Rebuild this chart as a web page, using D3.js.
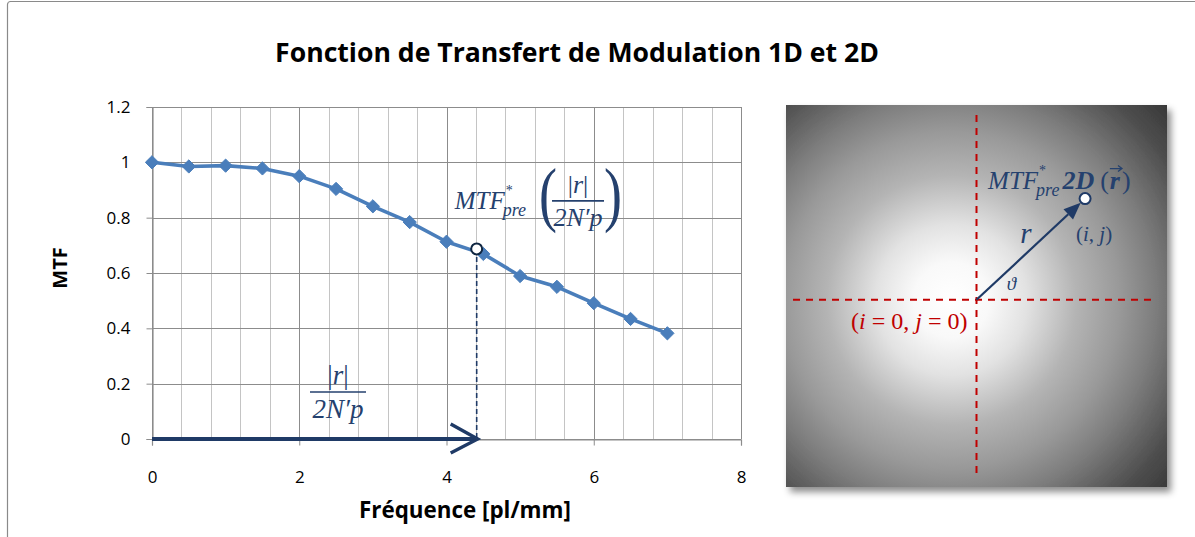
<!DOCTYPE html>
<html><head><meta charset="utf-8">
<script src="https://cdn.jsdelivr.net/npm/d3@7"></script>
<style>body{margin:0;background:#fff;} svg{display:block;}</style>
</head><body>
<script>
// ---- data ----
const frequencies = [0, 0.5, 1, 1.5, 2, 2.5, 3, 3.5, 4, 4.5, 5, 5.5, 6, 6.5, 7];
const mtfValues   = [1.0, 0.985, 0.988, 0.978, 0.950, 0.904, 0.841, 0.784, 0.713, 0.669, 0.589, 0.550, 0.491, 0.434, 0.382];
const xTickValues = [0, 2, 4, 6, 8];
const yTickValues = [0, 0.2, 0.4, 0.6, 0.8, 1.0, 1.2];
const xMinorStep = 0.4;
const markedFrequency = 4.41;   // |r| / 2N'p
const markedMtf = 0.687;        // MTF*pre at that frequency
const titleText = "Fonction de Transfert de Modulation 1D et 2D";
const xAxisTitle = "Fréquence [pl/mm]";
const yAxisTitle = "MTF";
const samplePixel = [0.57, 0.53]; // (i,j) in normalised 2D panel coordinates

// ---- styles ----
const W = 1195, H = 537;
const seriesColor = "#4A7EBB";
const navy = "#1F3A66";
const mathText = "#25416E";
const red = "#C00000";
const uiFont = "'Open Sans', Lato, sans-serif";
const mathFont = "'Liberation Serif', 'DejaVu Serif', serif";

const svg = d3.select("body").append("svg").attr("width", W).attr("height", H);
const defs = svg.append("defs");

// scale a text's font size so that it spans the given width
function fitWidth(sel, width) {
  const size = +sel.attr("font-size");
  const len = sel.node().getComputedTextLength();
  sel.attr("font-size", (size * width / len).toFixed(2));
  return sel;
}

// chart frame
svg.append("rect").attr("x", 7.5).attr("y", 1.5).attr("width", W + 20).attr("height", H + 20)
  .attr("rx", 3).attr("fill", "#fff").attr("stroke", "#8A8A8A").attr("stroke-width", 1.2);

// title
fitWidth(svg.append("text").attr("x", 577).attr("y", 62).attr("text-anchor", "middle")
  .attr("font-family", uiFont).attr("font-weight", "bold").attr("font-size", 22)
  .attr("fill", "#000").text(titleText), 604);

// ---- 1D chart ----
const plot = { left: 152, right: 741, top: 107, bottom: 439 };
const x = d3.scaleLinear().domain([0, 8]).range([plot.left, plot.right]);
const y = d3.scaleLinear().domain([0, 1.2]).range([plot.bottom, plot.top]);

const grid = svg.append("g");
const minorX = d3.range(0, 8 + 1e-9, xMinorStep).filter(v => !xTickValues.some(t => Math.abs(t - v) < 1e-6));
grid.selectAll("line.minx").data(minorX).join("line")
  .attr("x1", d => Math.round(x(d)) + 0.5).attr("x2", d => Math.round(x(d)) + 0.5)
  .attr("y1", plot.top).attr("y2", plot.bottom)
  .attr("stroke", "#C4C4C4").attr("stroke-width", 1);
grid.selectAll("line.majy").data(yTickValues).join("line")
  .attr("x1", plot.left).attr("x2", plot.right)
  .attr("y1", d => Math.round(y(d)) + 0.5).attr("y2", d => Math.round(y(d)) + 0.5)
  .attr("stroke", "#8C8C8C").attr("stroke-width", 1);
grid.selectAll("line.majx").data(xTickValues).join("line")
  .attr("x1", d => Math.round(x(d)) + 0.5).attr("x2", d => Math.round(x(d)) + 0.5)
  .attr("y1", plot.top).attr("y2", plot.bottom)
  .attr("stroke", "#8C8C8C").attr("stroke-width", 1);

// axes
const yAxis = svg.append("g").attr("transform", `translate(${plot.left + 0.5},0)`)
  .call(d3.axisLeft(y).tickValues(yTickValues).tickSize(6).tickPadding(16)
    .tickFormat(d => d3.format("~g")(+d.toFixed(1))));
const xAxis = svg.append("g").attr("transform", `translate(0,${plot.bottom + 0.5})`)
  .call(d3.axisBottom(x).tickValues(xTickValues).tickSize(6).tickPadding(25)
    .tickFormat(d3.format("d")));
[xAxis, yAxis].forEach(g => {
  g.select(".domain").attr("stroke", "#8C8C8C").attr("stroke-width", 1.2);
  g.selectAll(".tick line").attr("stroke", "#8C8C8C");
  g.selectAll(".tick text").attr("font-family", uiFont).attr("font-size", 17).attr("fill", "#000");
});

// axis titles
fitWidth(svg.append("text").attr("x", 465).attr("y", 518).attr("text-anchor", "middle")
  .attr("font-family", uiFont).attr("font-weight", "bold").attr("font-size", 20).text(xAxisTitle), 212);
svg.append("text").attr("transform", "translate(67,268) rotate(-90)").attr("text-anchor", "middle")
  .attr("font-family", uiFont).attr("font-weight", "bold").attr("font-size", 20).text(yAxisTitle);

// frequency arrow |r|/2N'p along the x axis
const mx = x(markedFrequency), my = y(markedMtf);
svg.append("line").attr("x1", mx).attr("x2", mx).attr("y1", my).attr("y2", y(0))
  .attr("stroke", navy).attr("stroke-width", 1.6).attr("stroke-dasharray", "5,3");
svg.append("line").attr("x1", x(0)).attr("x2", mx).attr("y1", y(0)).attr("y2", y(0))
  .attr("stroke", navy).attr("stroke-width", 3.8);
svg.append("path").attr("d", `M${mx - 26},${y(0) - 15}L${mx + 1},${y(0)}L${mx - 26},${y(0) + 14}`)
  .attr("fill", "none").attr("stroke", navy).attr("stroke-width", 3.4).attr("stroke-linejoin", "miter");

// series
const points = frequencies.map((f, i) => [f, mtfValues[i]]);
svg.append("path").datum(points)
  .attr("d", d3.line().x(d => x(d[0])).y(d => y(d[1])))
  .attr("fill", "none").attr("stroke", seriesColor).attr("stroke-width", 3.6).attr("stroke-linejoin", "round");
svg.selectAll("path.marker").data(points).join("path")
  .attr("class", "marker")
  .attr("d", d3.symbol(d3.symbolDiamond2, 112))
  .attr("transform", d => `translate(${x(d[0])},${y(d[1])})`)
  .attr("fill", seriesColor).attr("stroke", seriesColor).attr("stroke-width", 1);

// marked point
svg.append("circle").attr("cx", mx).attr("cy", my).attr("r", 5.5)
  .attr("fill", "#fff").attr("stroke", "#0F2540").attr("stroke-width", 2);

// ---- math helpers ----
function mathRun(g, px, py, t, size, opts = {}) {
  const e = g.append("text").attr("x", px).attr("y", py).attr("font-family", mathFont)
    .attr("font-size", size).attr("font-style", opts.upright ? "normal" : "italic")
    .attr("font-weight", opts.bold ? "bold" : "normal").attr("fill", opts.color || mathText).text(t);
  return px + e.node().getComputedTextLength();
}
// "MTF" with a stacked superscript * and subscript "pre"
function mtfPre(g, px, py) {
  const endM = mathRun(g, px, py, "MTF", 25);
  mathRun(g, endM + 1, py - 14, "*", 14, { upright: true });
  return mathRun(g, endM - 2, py + 7, "pre", 18);
}
function fraction(g, cx, barY, halfW, size) {
  g.append("text").attr("x", cx).attr("y", barY - 8).attr("text-anchor", "middle")
    .attr("font-family", mathFont).attr("font-size", size).attr("fill", mathText)
    .html('|<tspan font-style="italic">r</tspan>|');
  g.append("line").attr("x1", cx - halfW).attr("x2", cx + halfW).attr("y1", barY).attr("y2", barY)
    .attr("stroke", mathText).attr("stroke-width", 1.7);
  g.append("text").attr("x", cx).attr("y", barY + size - 1).attr("text-anchor", "middle")
    .attr("font-family", mathFont).attr("font-size", size).attr("font-style", "italic").attr("fill", mathText)
    .text("2N\u2032p");
}
function bigParen(g, px, py, ch) {
  g.append("text").attr("x", 0).attr("y", 0).attr("font-family", mathFont)
    .attr("font-size", 72).attr("fill", mathText)
    .attr("transform", `translate(${px},${py}) scale(0.75,1)`).text(ch);
}

const ann = svg.append("g");
// MTF*pre( |r| / 2N'p ) near the marked point
{
  const bx = mx - 22, by = my - 40;
  const endPre = mtfPre(ann, bx, by);
  const lp = endPre + 13;
  bigParen(ann, lp, by + 9, "(");
  fraction(ann, lp + 39, by - 8, 26, 26);
  bigParen(ann, lp + 65, by + 9, ")");
}
// |r| / 2N'p above the axis arrow
fraction(ann, 338, 392, 28, 27);

// ---- 2D panel ----
const panel = { x: 786, y: 105, w: 381, h: 382 };
const px = d3.scaleLinear().domain([-1, 1]).range([panel.x, panel.x + panel.w]);
const py = d3.scaleLinear().domain([-0.98, 1.02]).range([panel.y + panel.h, panel.y]);
const ox = px(0), oy = py(0);

const grad = defs.append("radialGradient").attr("id", "mtf2d").attr("gradientUnits", "userSpaceOnUse")
  .attr("cx", ox - 25).attr("cy", oy).attr("r", 290);
[[0, "#ffffff"], [0.13, "#f9f9f9"], [0.26, "#e2e2e2"], [0.43, "#b4b4b4"], [0.58, "#999999"],
 [0.7, "#7e7e7e"], [0.88, "#4e4e4e"], [1, "#383838"]]
  .forEach(([o, c]) => grad.append("stop").attr("offset", o).attr("stop-color", c));
const shadow = defs.append("filter").attr("id", "shadow").attr("x", "-10%").attr("y", "-10%")
  .attr("width", "125%").attr("height", "125%");
shadow.append("feDropShadow").attr("dx", 4).attr("dy", 5).attr("stdDeviation", 3.5)
  .attr("flood-color", "#000").attr("flood-opacity", 0.45);

svg.append("rect").attr("x", panel.x).attr("y", panel.y).attr("width", panel.w).attr("height", panel.h)
  .attr("fill", "url(#mtf2d)").attr("filter", "url(#shadow)");

// crosshair through (i=0, j=0)
svg.append("line").attr("x1", ox).attr("x2", ox).attr("y1", panel.y + 10).attr("y2", panel.y + panel.h - 14)
  .attr("stroke", red).attr("stroke-width", 2).attr("stroke-dasharray", "7,6");
svg.append("line").attr("x1", panel.x + 7).attr("x2", panel.x + panel.w - 15).attr("y1", oy).attr("y2", oy)
  .attr("stroke", red).attr("stroke-width", 2).attr("stroke-dasharray", "7,6");

// radius vector r to (i,j)
const sx = px(samplePixel[0]), sy = py(samplePixel[1]);
const ang = Math.atan2(sy - oy, sx - ox);
const tipX = sx - Math.cos(ang) * 6, tipY = sy - Math.sin(ang) * 6;
const headL = 17, headW = 7;
const baseX = tipX - Math.cos(ang) * headL, baseY = tipY - Math.sin(ang) * headL;
svg.append("line").attr("x1", ox).attr("y1", oy).attr("x2", baseX).attr("y2", baseY)
  .attr("stroke", navy).attr("stroke-width", 2.2);
svg.append("path").attr("d", `M${tipX},${tipY}L${baseX - Math.sin(ang) * headW},${baseY + Math.cos(ang) * headW}L${baseX + Math.sin(ang) * headW},${baseY - Math.cos(ang) * headW}Z`)
  .attr("fill", navy);
svg.append("circle").attr("cx", sx).attr("cy", sy).attr("r", 5.5)
  .attr("fill", "#fff").attr("stroke", navy).attr("stroke-width", 2);

// panel labels
const pl = svg.append("g");
{
  const bx = sx - 97, by = sy - 10;
  const e2 = mtfPre(pl, bx, by);
  const e3 = mathRun(pl, e2 + 3, by, "2D", 26, { bold: true });
  const e4 = mathRun(pl, e3 + 6, by, "(", 26, { upright: true });
  const e5 = mathRun(pl, e4 + 1, by, "r", 26, { bold: true });
  mathRun(pl, e5 + 2, by, ")", 26, { upright: true });
  // vector arrow over r
  const vx0 = e4 + 1, vx1 = e5 + 2, vy = by - 20;
  pl.append("path").attr("d", `M${vx0},${vy}L${vx1},${vy}M${vx1 - 4},${vy - 3}L${vx1},${vy}L${vx1 - 4},${vy + 3}`)
    .attr("fill", "none").attr("stroke", mathText).attr("stroke-width", 1.3);
}
pl.append("text").attr("x", (ox + sx) / 2 - 5).attr("y", (oy + sy) / 2 - 6).attr("text-anchor", "middle")
  .attr("font-family", mathFont).attr("font-size", 29).attr("font-style", "italic").attr("fill", mathText).text("r");
pl.append("text").attr("x", sx + 9).attr("y", sy + 42).attr("text-anchor", "middle")
  .attr("font-family", mathFont).attr("font-size", 21).attr("fill", mathText)
  .html('(<tspan font-style="italic">i</tspan>, <tspan font-style="italic">j</tspan>)');
pl.append("text").attr("x", ox + 35).attr("y", oy - 10).attr("text-anchor", "middle")
  .attr("font-family", mathFont).attr("font-size", 19).attr("font-style", "italic").attr("fill", mathText).text("\u03D1");
pl.append("text").attr("x", ox - 9).attr("y", oy + 29).attr("text-anchor", "end")
  .attr("font-family", mathFont).attr("font-size", 24).attr("fill", red)
  .html('(<tspan font-style="italic">i</tspan> = 0, <tspan font-style="italic">j</tspan> = 0)');
</script>
</body></html>
